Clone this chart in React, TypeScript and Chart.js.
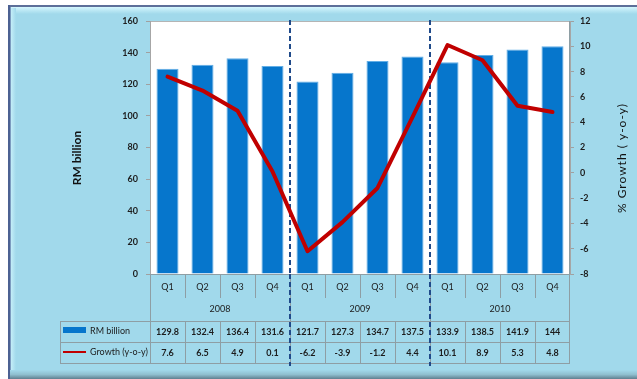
import React, { useEffect, useRef } from "react";
import { Chart, registerables } from "chart.js";

Chart.register(...registerables);

const quarters = ["Q1", "Q2", "Q3", "Q4", "Q1", "Q2", "Q3", "Q4", "Q1", "Q2", "Q3", "Q4"];
const years = ["2008", "2009", "2010"];
const rmBillion = [129.8, 132.4, 136.4, 131.6, 121.7, 127.3, 134.7, 137.5, 133.9, 138.5, 141.9, 144];
const growth = [7.6, 6.5, 4.9, 0.1, -6.2, -3.9, -1.2, 4.4, 10.1, 8.9, 5.3, 4.8];
const rmLabels = ["129.8", "132.4", "136.4", "131.6", "121.7", "127.3", "134.7", "137.5", "133.9", "138.5", "141.9", "144"];
const growthLabels = ["7.6", "6.5", "4.9", "0.1", "-6.2", "-3.9", "-1.2", "4.4", "10.1", "8.9", "5.3", "4.8"];
const leftAxis = { min: 0, max: 160, step: 20 };
const rightAxis = { min: -8, max: 12, step: 2 };

const BG = "#a1d9eb";
const BAR = "#0676cc";
const LINE = "#c00000";
const GRID = "#8e9ea4";
const TXT = "#1c1c1c";
const FONT = "Lato, 'Open Sans', sans-serif";

const decorPlugin = {
  id: "decor",
  beforeDraw(chart: any) {
    const ctx = chart.ctx;
    const W = chart.width;
    const H = chart.height;
    const ca = chart.chartArea;
    ctx.save();
    ctx.fillStyle = "#ffffff";
    ctx.fillRect(0, 0, W, H);
    ctx.fillStyle = BG;
    ctx.fillRect(8, 5, W - 8, H - 5);
    ctx.fillStyle = "#5d6f99";
    ctx.fillRect(8, 5, W - 8, 2);
    const tg = ctx.createLinearGradient(0, 7, 0, 14);
    tg.addColorStop(0, "#d4f6fd");
    tg.addColorStop(1, BG);
    ctx.fillStyle = tg;
    ctx.fillRect(10, 7, W - 10, 7);
    ctx.fillStyle = "#4c6192";
    ctx.fillRect(8, 5, 2, H - 5);
    ctx.fillStyle = "#7d9cc0";
    ctx.fillRect(10, 7, 1, H - 7);
    const lg = ctx.createLinearGradient(11, 0, 16, 0);
    lg.addColorStop(0, "#c4eef8");
    lg.addColorStop(1, BG);
    ctx.fillStyle = lg;
    ctx.fillRect(11, 8, 5, H - 16);
    const bg = ctx.createLinearGradient(0, 370, 0, H);
    bg.addColorStop(0, BG);
    bg.addColorStop(0.5, "#8fbfcf");
    bg.addColorStop(1, "#5f7f8f");
    ctx.fillStyle = bg;
    ctx.fillRect(10, 370, W - 10, H - 370);
    ctx.fillStyle = "#ffffff";
    ctx.fillRect(ca.left, ca.top, ca.right - ca.left, ca.bottom - ca.top);
    ctx.strokeStyle = "#b4b4b4";
    ctx.lineWidth = 1;
    ctx.strokeRect(ca.left + 0.5, ca.top + 0.5, ca.right - ca.left - 1, ca.bottom - ca.top);
    ctx.restore();
  },
  beforeDatasetsDraw(chart: any) {
    const ctx = chart.ctx;
    const ca = chart.chartArea;
    const x = chart.scales.x;
    ctx.save();
    ctx.strokeStyle = "#1f4a8a";
    ctx.lineWidth = 2;
    ctx.setLineDash([5, 3]);
    for (let g = 1; g < years.length; g++) {
      const px = Math.round((x.getPixelForValue(g * 4 - 1) + x.getPixelForValue(g * 4)) / 2);
      ctx.beginPath();
      ctx.moveTo(px, ca.top - 1);
      ctx.lineTo(px, ca.bottom);
      ctx.stroke();
    }
    ctx.restore();
  },
  afterDraw(chart: any) {
    const ctx = chart.ctx;
    const ca = chart.chartArea;
    const x = chart.scales.x;
    const n = quarters.length;
    const cw = (ca.right - ca.left) / n;
    const qBottom = ca.bottom + 24;
    const yBottom = ca.bottom + 47;
    const r1 = yBottom + 21;
    const r2 = r1 + 21;
    const tLeft = 60;
    ctx.save();
    ctx.strokeStyle = GRID;
    ctx.lineWidth = 1;
    const line = (x1: number, y1: number, x2: number, y2: number) => {
      ctx.beginPath();
      ctx.moveTo(x1, y1);
      ctx.lineTo(x2, y2);
      ctx.stroke();
    };
    line(ca.left, ca.bottom + 0.5, ca.right, ca.bottom + 0.5);
    for (let i = 1; i < n; i++) {
      const px = Math.round(ca.left + i * cw) + 0.5;
      if (i % 4 !== 0) line(px, ca.bottom, px, qBottom);
      else line(px, ca.bottom, px, yBottom);
      line(px, yBottom, px, r2);
    }
    line(ca.left + 0.5, ca.bottom, ca.left + 0.5, r2);
    line(ca.right - 0.5, ca.top, ca.right - 0.5, r2);
    line(tLeft + 0.5, yBottom, tLeft + 0.5, r2);
    line(tLeft, yBottom + 0.5, ca.right, yBottom + 0.5);
    line(tLeft, r1 + 0.5, ca.right, r1 + 0.5);
    line(tLeft, r2 + 0.5, ca.right, r2 + 0.5);

    ctx.fillStyle = TXT;
    ctx.textAlign = "center";
    ctx.textBaseline = "middle";
    ctx.font = `9px ${FONT}`;
    for (let i = 0; i < n; i++) {
      const px = x.getPixelForValue(i);
      ctx.fillText(quarters[i], px, ca.bottom + 13);
    }
    years.forEach((yr, g) => {
      const px = (x.getPixelForValue(g * 4) + x.getPixelForValue(g * 4 + 3)) / 2;
      ctx.fillText(yr, px, ca.bottom + 35);
    });
    ctx.font = `bold 9px ${FONT}`;
    for (let i = 0; i < n; i++) {
      const px = x.getPixelForValue(i);
      ctx.fillText(rmLabels[i], px, yBottom + 11);
      ctx.fillText(growthLabels[i], px, r1 + 11);
    }
    ctx.fillStyle = BAR;
    ctx.fillRect(63, yBottom + 6, 23, 6);
    ctx.strokeStyle = LINE;
    ctx.lineWidth = 2;
    line(63, r1 + 10, 86, r1 + 10);
    ctx.fillStyle = TXT;
    ctx.textAlign = "left";
    ctx.font = `9px ${FONT}`;
    ctx.fillText("RM billion", 90, yBottom + 10);
    ctx.fillText("Growth (y-o-y)", 90, r1 + 10);

    ctx.strokeStyle = "#1f4a8a";
    ctx.lineWidth = 2;
    ctx.setLineDash([5, 3]);
    for (let g = 1; g < years.length; g++) {
      const px = Math.round((x.getPixelForValue(g * 4 - 1) + x.getPixelForValue(g * 4)) / 2);
      line(px, ca.bottom, px, r2 + 3);
    }
    ctx.setLineDash([]);

    const midY = 158;
    ctx.fillStyle = "#111111";
    ctx.textAlign = "center";
    ctx.save();
    ctx.translate(77, midY);
    ctx.rotate(-Math.PI / 2);
    ctx.font = `bold 12px ${FONT}`;
    ctx.fillText("RM billion", 0, 0);
    ctx.restore();
    ctx.save();
    ctx.translate(622, midY);
    ctx.rotate(-Math.PI / 2);
    ctx.font = `12px ${FONT}`;
    (ctx as any).letterSpacing = "1px";
    ctx.fillText("% Growth ( y-o-y)", 0, 0);
    ctx.restore();
    ctx.restore();
  },
};

export default function App() {
  const ref = useRef<HTMLCanvasElement | null>(null);
  useEffect(() => {
    if (!ref.current) return;
    const chart = new Chart(ref.current, {
      type: "bar",
      data: {
        labels: quarters,
        datasets: [
          {
            type: "line",
            label: "Growth (y-o-y)",
            data: growth,
            yAxisID: "y1",
            borderColor: LINE,
            backgroundColor: LINE,
            borderWidth: 4,
            pointRadius: 0,
            tension: 0,
            borderJoinStyle: "round",
            borderCapStyle: "round",
            order: 0,
          } as any,
          {
            type: "bar",
            label: "RM billion",
            data: rmBillion,
            yAxisID: "y",
            backgroundColor: BAR,
            borderColor: "#62aee6",
            borderWidth: 1,
            categoryPercentage: 1,
            barPercentage: 0.63,
            order: 1,
          },
        ],
      },
      options: {
        responsive: false,
        maintainAspectRatio: false,
        animation: false,
        devicePixelRatio: 1,
        layout: { padding: { top: 21, bottom: 105, left: 0, right: 0 } },
        plugins: { legend: { display: false }, tooltip: { enabled: false } },
        scales: {
          x: { display: false },
          y: {
            position: "left",
            min: leftAxis.min,
            max: leftAxis.max,
            ticks: {
              stepSize: leftAxis.step,
              padding: 8,
              color: TXT,
              font: { family: FONT, size: 9, weight: "bold" },
            },
            grid: { drawOnChartArea: false, drawTicks: true, tickLength: 4, color: "#a0a0a0" },
            border: { display: true, color: "#a6a6a6" },
            afterFit: (s: any) => {
              s.width = 150;
            },
          },
          y1: {
            position: "right",
            min: rightAxis.min,
            max: rightAxis.max,
            ticks: {
              stepSize: rightAxis.step,
              padding: 6,
              color: TXT,
              font: { family: FONT, size: 9, weight: "bold" },
            },
            grid: { drawOnChartArea: false, drawTicks: true, tickLength: 4, color: "#a0a0a0" },
            border: { display: true, color: "#a6a6a6" },
            afterFit: (s: any) => {
              s.width = 67;
            },
          },
        },
      } as any,
      plugins: [decorPlugin],
    });
    return () => chart.destroy();
  }, []);
  return (
    <div style={{ position: "absolute", left: 0, top: 0, width: 637, height: 379 }}>
      <canvas ref={ref} width={637} height={379} style={{ display: "block" }} />
    </div>
  );
}
